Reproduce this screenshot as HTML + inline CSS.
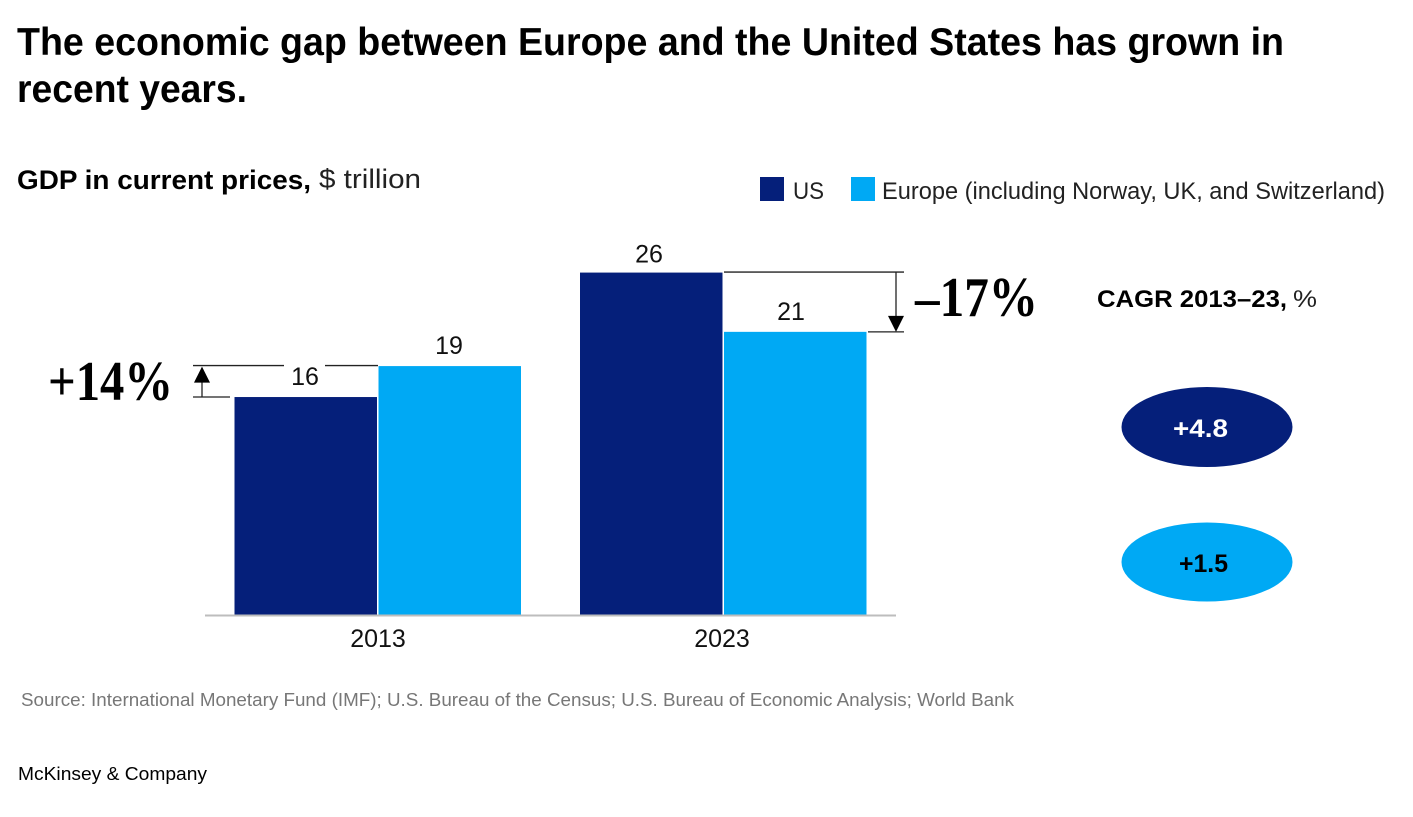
<!DOCTYPE html>
<html lang="en">
<head>
<meta charset="utf-8">
<title>The economic gap between Europe and the United States</title>
<style>
  html, body { margin: 0; padding: 0; background: #fff; width: 1413px; height: 817px; overflow: hidden; }
  svg { display: block; font-family: "Liberation Sans", sans-serif; }
  .serif { font-family: "Liberation Serif", serif; font-weight: 700; }
</style>
</head>
<body>
<svg id="chart" width="1413" height="817" viewBox="0 0 1413 817" xmlns="http://www.w3.org/2000/svg">
  <rect x="0" y="0" width="1413" height="817" fill="#fff"/>

  <text x="17" y="55" font-size="39" font-weight="700" fill="#000" textLength="1267" lengthAdjust="spacingAndGlyphs">The economic gap between Europe and the United States has grown in</text>
  <text x="17" y="102" font-size="39" font-weight="700" fill="#000" textLength="230" lengthAdjust="spacingAndGlyphs">recent years.</text>

  <text x="17" y="189" font-size="27" font-weight="700" fill="#000" textLength="294" lengthAdjust="spacingAndGlyphs">GDP in current prices,</text>
  <text x="319" y="188" font-size="27" fill="#222" textLength="102" lengthAdjust="spacingAndGlyphs">$ trillion</text>

  <g>
    <rect x="760" y="177" width="24" height="24" fill="#051F7A"/>
    <text x="793" y="199" font-size="24" fill="#222" textLength="31" lengthAdjust="spacingAndGlyphs">US</text>
    <rect x="851" y="177" width="24" height="24" fill="#00A9F4"/>
    <text x="882" y="199" font-size="24" fill="#222" textLength="503" lengthAdjust="spacingAndGlyphs">Europe (including Norway, UK, and Switzerland)</text>
  </g>

  <g id="plot"></g>

  <text x="1097" y="307" font-size="24" font-weight="700" fill="#000" textLength="190" lengthAdjust="spacingAndGlyphs">CAGR 2013–23,</text>
  <text x="1293" y="307" font-size="24" fill="#222" textLength="24" lengthAdjust="spacingAndGlyphs">%</text>

  <ellipse cx="1207" cy="427" rx="85.5" ry="40" fill="#051F7A"/>
  <text x="1173" y="437" font-size="25" font-weight="700" fill="#fff" textLength="55" lengthAdjust="spacingAndGlyphs">+4.8</text>
  <ellipse cx="1207" cy="562" rx="85.5" ry="39.5" fill="#00A9F4"/>
  <text x="1179" y="572" font-size="25" font-weight="700" fill="#000" textLength="49" lengthAdjust="spacingAndGlyphs">+1.5</text>

  <text x="21" y="706" font-size="18.5" fill="#777" textLength="993" lengthAdjust="spacingAndGlyphs">Source: International Monetary Fund (IMF); U.S. Bureau of the Census; U.S. Bureau of Economic Analysis; World Bank</text>
  <text x="18" y="780" font-size="18.5" fill="#000" textLength="189" lengthAdjust="spacingAndGlyphs">McKinsey &amp; Company</text>
</svg>

<script>
const categories = ['2013', '2023'];
const usValues = [16.55, 26];
const europeValues = [18.9, 21.5];
const usLabels = ['16', '26'];
const europeLabels = ['19', '21'];
const gapLabels = ['+14%', '–17%'];

const NAVY = '#051F7A';
const SKY = '#00A9F4';
const SVG_NS = 'http://www.w3.org/2000/svg';
const plot = document.getElementById('plot');
const BASELINE = 615;
const UNIT = 13.17;
const BAR_W = 142.5;

function yScale(v) { return BASELINE - v * UNIT; }
function xCenter(i) { return 377.5 + i * 345.5; }
function xTick(i) { return 378 + i * 344; }

function make(tag, props) {
  const el = document.createElementNS(SVG_NS, tag);
  for (const k in props) el.setAttribute(k, props[k]);
  plot.appendChild(el);
  return el;
}
function hLine(x1, x2, y) {
  return make('line', { x1: x1, x2: x2, y1: y, y2: y, stroke: '#222', 'stroke-width': 1.3 });
}
function vLine(x, y1, y2) {
  return make('line', { x1: x, x2: x, y1: y1, y2: y2, stroke: '#222', 'stroke-width': 1.3 });
}

categories.forEach(function (cat, i) {
  const c = xCenter(i);
  const t = xTick(i);
  const yUs = yScale(usValues[i]);
  const yEu = yScale(europeValues[i]);

  const barUs = make('rect', { x: c - 143, y: yUs, width: BAR_W, height: BASELINE - yUs, fill: NAVY });
  
  

  const barEu = make('rect', { x: c + 1, y: yEu, width: BAR_W, height: BASELINE - yEu, fill: SKY });
  
  

  const labelUs = make('text', { x: t - 73, y: yUs - 10 - (i === 0 ? 2 : 0), 'font-size': 25, fill: '#111', 'text-anchor': 'middle' });
  labelUs.textContent = usLabels[i];
  
  

  const labelEu = make('text', { x: t + 71 - 2 * i, y: yEu - 12, 'font-size': 25, fill: '#111', 'text-anchor': 'middle' });
  labelEu.textContent = europeLabels[i];
  
  

  const tick = make('text', { x: t, y: 647, 'font-size': 25, fill: '#111', 'text-anchor': 'middle' });
  tick.textContent = cat;
  
  
});

const axis = make('line', { x1: 205, x2: 896, y1: BASELINE + 0.5, y2: BASELINE + 0.5, stroke: '#bdbdbd', 'stroke-width': 2 });



/* 2013 gap bracket: Europe above US */
const top0 = yScale(europeValues[0]) - 0.5;
const bot0 = yScale(usValues[0]);
const g0a = hLine(193, 284, top0);


const g0b = hLine(325, 378, top0);


const g0c = hLine(193, 230, bot0);


const g0d = vLine(202, top0 + 15, bot0);


const g0e = make('polygon', { points: '202,' + (top0 + 1) + ' 194,' + (top0 + 17) + ' 210,' + (top0 + 17), fill: '#000' });


const g0t = make('text', { x: 48, y: 400, 'font-size': 56, fill: '#000', class: 'serif', textLength: 125, lengthAdjust: 'spacingAndGlyphs' });
g0t.textContent = gapLabels[0];



/* 2023 gap bracket: Europe below US */
const top1 = yScale(usValues[1]) - 0.5;
const bot1 = yScale(europeValues[1]);
const g1a = hLine(724, 904, top1);


const g1b = hLine(868, 904, bot1);


const g1c = vLine(896, top1, bot1 - 15);


const g1d = make('polygon', { points: '896,' + bot1 + ' 888,' + (bot1 - 16) + ' 904,' + (bot1 - 16), fill: '#000' });


const g1t = make('text', { x: 915, y: 316, 'font-size': 56, fill: '#000', class: 'serif', textLength: 123, lengthAdjust: 'spacingAndGlyphs' });
g1t.textContent = gapLabels[1];


</script>
</body>
</html>
